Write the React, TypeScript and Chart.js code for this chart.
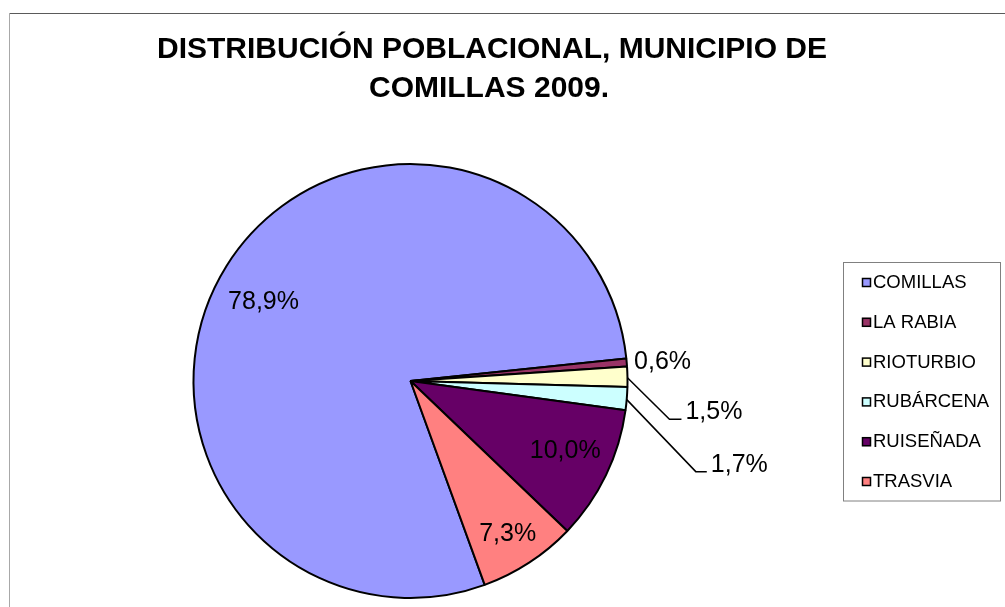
import { useEffect, useRef } from "react";
import { Chart, registerables } from "chart.js";

Chart.register(...registerables);

// ---- data ----
const categories = ["COMILLAS", "LA RABIA", "RIOTURBIO", "RUBÁRCENA", "RUISEÑADA", "TRASVIA"];
const shares = [78.9, 0.6, 1.5, 1.7, 10.0, 7.3];
const valueLabels = ["78,9%", "0,6%", "1,5%", "1,7%", "10,0%", "7,3%"];
const sliceColors = ["#9999FF", "#993366", "#FFFFCC", "#CCFFFF", "#660066", "#FF8080"];
const titleLines = ["DISTRIBUCIÓN POBLACIONAL, MUNICIPIO DE", "COMILLAS 2009."];

// ---- label placement style (per slice) ----
type Placement =
  | { kind: "radial"; f: number; da: number }
  | { kind: "leader"; dx: number; dy: number; run: number };
const labelPlacement: Placement[] = [
  { kind: "radial", f: 0.77, da: -3.6 },
  { kind: "radial", f: 1.165, da: 0.4 },
  { kind: "leader", dx: 42, dy: 41.5, run: 12 },
  { kind: "leader", dx: 69, dy: 72, run: 11 },
  { kind: "radial", f: 0.78, da: -1.8 },
  { kind: "radial", f: 0.83, da: 0.5 },
];

const FONT = '"Liberation Sans", Arial, Helvetica, sans-serif';

function drawText(
  ctx: CanvasRenderingContext2D,
  text: string,
  x: number,
  y: number,
  font: string,
  align: CanvasTextAlign,
  color = "#000"
) {
  ctx.save();
  ctx.font = font;
  ctx.fillStyle = color;
  ctx.textAlign = align;
  ctx.textBaseline = "middle";
  ctx.fillText(text, x, y);
  ctx.restore();
}

const decorPlugin = {
  id: "excelDecor",
  beforeDraw(chart: any) {
    const ctx: CanvasRenderingContext2D = chart.ctx;
    const W = chart.width;
    const H = chart.height;
    ctx.save();
    ctx.fillStyle = "#fff";
    ctx.fillRect(0, 0, W, H);
    ctx.lineWidth = 1;
    ctx.strokeStyle = "#5a5a5a";
    ctx.beginPath();
    ctx.moveTo(9, 13.5);
    ctx.lineTo(W, 13.5);
    ctx.stroke();
    ctx.strokeStyle = "#a8a8a8";
    ctx.beginPath();
    ctx.moveTo(9.5, 13);
    ctx.lineTo(9.5, H);
    ctx.stroke();
    ctx.restore();
    const tf = `bold 30px ${FONT}`;
    drawText(ctx, titleLines[0], 492, 50, tf, "center");
    drawText(ctx, titleLines[1], 489, 89, tf, "center");
  },
  afterDatasetsDraw(chart: any) {
    const ctx: CanvasRenderingContext2D = chart.ctx;
    const meta = chart.getDatasetMeta(0);
    const lf = `25px ${FONT}`;
    meta.data.forEach((arc: any, i: number) => {
      const p = arc.getProps(["x", "y", "startAngle", "endAngle", "outerRadius"], true);
      const mid = (p.startAngle + p.endAngle) / 2;
      const pl = labelPlacement[i];
      const text = valueLabels[i];
      if (pl.kind === "radial") {
        const r = p.outerRadius * pl.f;
        const a = mid + (pl.da * Math.PI) / 180;
        drawText(ctx, text, p.x + Math.cos(a) * r, p.y + Math.sin(a) * r + 1, lf, "center");
      } else {
        const sx0 = p.x + Math.cos(mid) * p.outerRadius;
        const sy0 = p.y + Math.sin(mid) * p.outerRadius + 1;
        const ex = sx0 + pl.dx;
        const ey = sy0 + pl.dy;
        ctx.save();
        ctx.strokeStyle = "#000";
        ctx.lineWidth = 1.5;
        ctx.beginPath();
        ctx.moveTo(sx0, sy0);
        ctx.lineTo(ex, ey);
        ctx.lineTo(ex + pl.run, ey);
        ctx.stroke();
        ctx.restore();
        drawText(ctx, text, ex + pl.run + 4, ey - 7, lf, "left");
      }
    });

    // legend
    const lx = 843.5, ly = 262.5, lw = 157, lh = 238.5;
    ctx.save();
    ctx.strokeStyle = "#808080";
    ctx.lineWidth = 1;
    ctx.strokeRect(lx, ly, lw, lh);
    ctx.restore();
    const legFont = `18.5px ${FONT}`;
    const gap = 39.8;
    categories.forEach((name, i) => {
      const cy = 282.5 + i * gap;
      ctx.save();
      ctx.fillStyle = sliceColors[i];
      ctx.fillRect(862, cy - 4.5, 9, 9);
      ctx.strokeStyle = "#000";
      ctx.lineWidth = 1.5;
      ctx.strokeRect(862.5, cy - 4, 8, 8);
      ctx.restore();
      drawText(ctx, name, 873, cy + 0.5, legFont, "left");
    });
  },
};

export default function App() {
  const ref = useRef<HTMLCanvasElement | null>(null);
  useEffect(() => {
    if (!ref.current) return;
    const chart = new Chart(ref.current, {
      type: "pie",
      data: {
        labels: categories,
        datasets: [
          {
            data: shares,
            backgroundColor: sliceColors,
            borderColor: "#000",
            borderWidth: 2,
          },
        ],
      },
      options: {
        responsive: false,
        animation: false,
        events: [],
        rotation: 160,
        layout: { padding: { left: 192.5, right: 376.5, top: 163, bottom: 8 } },
        plugins: {
          legend: { display: false },
          title: { display: false },
          tooltip: { enabled: false },
        },
      },
      plugins: [decorPlugin],
    });
    return () => chart.destroy();
  }, []);
  return (
    <div style={{ position: "absolute", left: 0, top: 0, width: 1005, height: 607, background: "#fff" }}>
      <canvas ref={ref} width={1005} height={607} style={{ display: "block" }} />
    </div>
  );
}
